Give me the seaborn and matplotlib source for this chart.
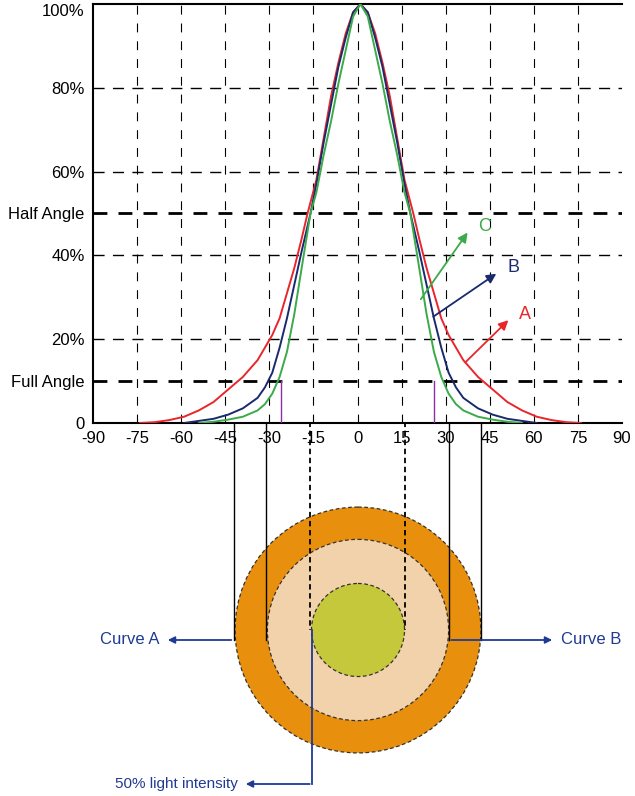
import numpy as np
import pandas as pd
import seaborn as sns
import matplotlib.pyplot as plt
from matplotlib.patches import Circle

plt.rcParams["font.family"] = "Liberation Sans"

# Intensity curves (% of peak), one half (symmetric about the peak)
half_angles_a = [0, 2.5, 5, 7.5, 10, 12.5, 15, 18, 20, 22.5, 25, 27.5, 30, 32.5, 35, 40, 45, 50, 55, 60, 65, 70, 75]
half_curve_a = [100, 98, 93, 86, 78, 68, 58, 50, 44, 37, 31, 25, 21, 18, 15, 11, 8, 5, 3, 1.5, 0.7, 0.2, 0]
half_angles_b = [0, 2.5, 5, 7.5, 10, 12.5, 15, 17, 20, 22.5, 25, 27.5, 30, 32.5, 35, 40, 45, 50, 55, 60]
half_curve_b = [100, 98, 92, 85, 76, 67, 57, 50, 41, 33, 25, 18, 12, 8.5, 6, 3.5, 2, 1, 0.5, 0]
half_angles_c = [0, 2.5, 5, 7.5, 10, 12.5, 15, 17, 20, 22.5, 25, 27.5, 30, 32.5, 35, 40, 45, 50, 55]
half_curve_c = [100, 97, 89, 81, 72, 64, 55, 50, 37, 26, 17, 11, 7, 4.5, 3, 1.5, 0.8, 0.3, 0]
peak_shift = 1

x_ticks = [-90, -75, -60, -45, -30, -15, 0, 15, 30, 45, 60, 75, 90]
y_ticks = [0, 10, 20, 40, 50, 60, 80, 100]
y_labels = ["0", "Full Angle", "20%", "40%", "Half Angle", "60%", "80%", "100%"]
half_angle = [-16, 16]
full_angle_a = [-42, 42]
full_angle_b = [-31, 31]
full_angle_c = [-26, 26]

red, blue, green = "#E8262B", "#1A2A6C", "#3BAA48"
navy = "#1F3A93"

fig = plt.figure(figsize=(6.35, 7.96), dpi=100)
ax = fig.add_axes([93 / 635, 1 - 423 / 796, 529 / 635, 419 / 796])

frames = []
for name, xs, ys in [("A", half_angles_a, half_curve_a), ("B", half_angles_b, half_curve_b),
                     ("C", half_angles_c, half_curve_c)]:
    xs = np.array(xs)
    full_x = np.concatenate([-xs[::-1], xs[1:]]) + peak_shift
    full_y = list(ys[::-1]) + list(ys[1:])
    frames.append(pd.DataFrame({"angle": full_x, "intensity": full_y, "curve": name}))
df = pd.concat(frames)
sns.lineplot(data=df, x="angle", y="intensity", hue="curve", palette={"A": red, "B": blue, "C": green},
             legend=False, linewidth=1.4, ax=ax, zorder=5, sort=False)

ax.set_xlim(-90, 90)
ax.set_ylim(0, 100)
ax.set_xticks(x_ticks)
ax.set_xticklabels([str(t) for t in x_ticks], fontsize=12)
ax.set_yticks(y_ticks)
ax.set_yticklabels(y_labels, fontsize=12)
ax.get_yticklabels()[-1].set_va("top")
ax.tick_params(length=0, pad=6)
ax.set_xlabel("")
ax.set_ylabel("")
ax.spines["right"].set_visible(False)
for s in ["left", "bottom", "top"]:
    ax.spines[s].set_linewidth(1.5)

for t in x_ticks[1:-1]:
    ax.axvline(t, color="black", lw=0.8, ls=(0, (8, 8)), zorder=1)
for t in [20, 40, 60, 80]:
    ax.axhline(t, color="black", lw=1.0, ls=(0, (8, 6)), zorder=1)
for t in [10, 50]:
    ax.axhline(t, color="black", lw=2.0, ls=(0, (5, 4)), zorder=1)

for a in full_angle_c:
    ax.plot([a, a], [0, 10], color="#8B2FA8", lw=1, zorder=4)

# arrows pointing at curves
for (x0, y0, x1, y1, col, lab) in [(21, 29, 38, 46, green, "C"), (25, 25, 48, 36, blue, "B"),
                                   (36, 14, 52, 25, red, "A")]:
    ax.annotate("", xy=(x1, y1), xytext=(x0, y0),
                arrowprops=dict(arrowstyle="-|>", color=col, lw=1.3, mutation_scale=14), zorder=6)
    ax.text(x1 + 3, y1 + 1, lab, color=col, fontsize=13, va="center")

# overlay in figure pixels for the circle diagram
ov = fig.add_axes([0, 0, 1, 1], zorder=-1)
ov.set_xlim(0, 635)
ov.set_ylim(796, 0)
ov.axis("off")
ov.patch.set_alpha(0)


def px(angle, val):
    dx, dy = ax.transData.transform((angle, val))
    return dx, 796 - dy


cx, cy = 358, 630
r_a = px(full_angle_a[1], 0)[0] - cx
r_b = px(full_angle_b[1], 0)[0] - cx
r_h = px(half_angle[1], 0)[0] - cx
for r, col in [(r_a, "#E8900E"), (r_b, "#F2D2AA"), (r_h, "#C5C83A")]:
    ov.add_patch(Circle((cx, cy), r, facecolor=col, edgecolor="#333333", lw=0.9, ls=(0, (3, 2))))

for a in full_angle_a + full_angle_b:
    x, y = px(a, 10)
    ov.plot([x, x], [y, cy + 10], color="black", lw=1)
for a in half_angle:
    x, y = px(a, 50)
    ov.plot([x, x], [y, cy], color="black", lw=1.3, ls=(0, (3, 2)))

xl = px(full_angle_a[0], 0)[0]
xr = px(full_angle_b[1], 0)[0]
ov.annotate("", xy=(165, 640), xytext=(xl, 640),
            arrowprops=dict(arrowstyle="-|>", color=navy, lw=1.3))
ov.text(160, 640, "Curve A", color=navy, fontsize=12, ha="right", va="center")
ov.annotate("", xy=(555, 640), xytext=(xr, 640),
            arrowprops=dict(arrowstyle="-|>", color=navy, lw=1.3))
ov.text(561, 640, "Curve B", color=navy, fontsize=12, ha="left", va="center")
xh = px(half_angle[0], 0)[0] + 2
ov.plot([xh, xh], [cy, 784], color=navy, lw=1.3)
ov.annotate("", xy=(243, 784), xytext=(xh, 784),
            arrowprops=dict(arrowstyle="-|>", color=navy, lw=1.3))
ov.text(238, 784, "50% light intensity", color=navy, fontsize=11, ha="right", va="center")

fig.savefig("out.png", dpi=100)
